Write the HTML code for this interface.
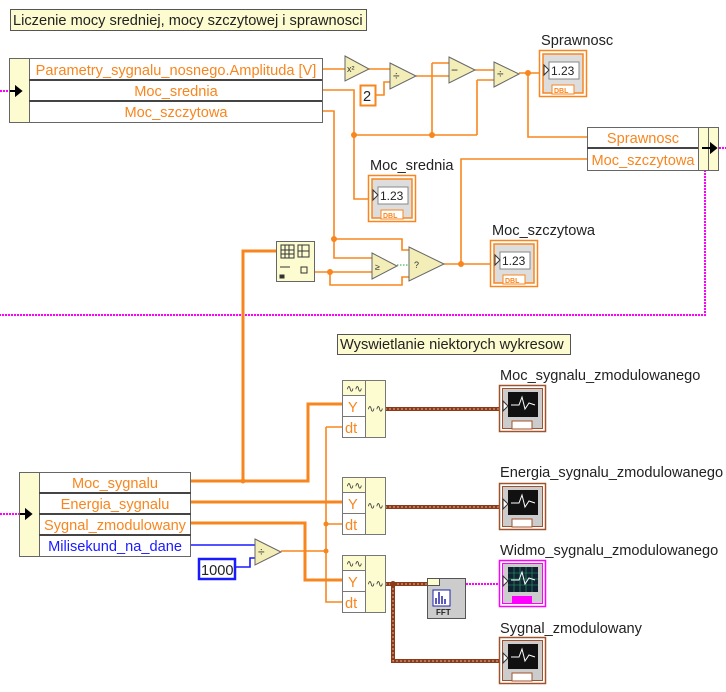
<!DOCTYPE html>
<html><head><meta charset="utf-8"><style>
html,body{margin:0;padding:0;background:#fff;}
svg{display:block;font-family:"Liberation Sans",sans-serif;}
.o{fill:#f8861e;font-size:14.6px;}
.k{fill:#222;font-size:14.6px;}
</style></head><body>
<svg width="726" height="692" viewBox="0 0 726 692" xmlns="http://www.w3.org/2000/svg">
<defs>
<g id="ind">
<rect x="0.5" y="0.5" width="47" height="46" fill="#fff" stroke="#f8861e" stroke-width="1.5"/>
<rect x="4" y="4" width="40" height="39" fill="#ddd" stroke="#f8861e" stroke-width="1.5"/>
<rect x="10" y="12" width="30" height="17" fill="#fff" stroke="#888"/>
<text x="12" y="25" font-size="12" fill="#222">1.23</text>
<path d="M5,15 L10,20 L5,25 Z" fill="#fff" stroke="#333"/>
<rect x="13" y="35" width="22" height="9" fill="#fff" stroke="#f8861e"/>
<text x="15" y="43" font-size="7" fill="#f8861e" font-weight="bold">DBL</text>
</g>
<g id="gr">
<rect x="0.5" y="0.5" width="46" height="46" fill="#fff" stroke="#a0522d" stroke-width="1.5"/>
<rect x="3.5" y="3.5" width="40" height="40" fill="#ccc" stroke="#a0522d"/>
<rect x="9" y="7" width="30" height="25" fill="#111"/>
<path d="M12,20 L20,20 L23,12 L26,24 L30,18 L36,20" stroke="#fff" fill="none"/>
<path d="M4,16 L9,21 L4,26 Z" fill="#fff" stroke="#333"/>
<rect x="13" y="36" width="20" height="8" fill="#fff" stroke="#a0522d"/>
</g>
<g id="bw">
<rect x="0.5" y="0.5" width="43" height="57" fill="#fdfbd0" stroke="#777"/>
<rect x="0.5" y="0.5" width="23" height="15" fill="#fdfbd0" stroke="#777"/>
<rect x="0.5" y="15.5" width="23" height="21" fill="#fff" stroke="#777"/>
<rect x="0.5" y="36.5" width="23" height="21" fill="#fff" stroke="#777"/>
<text x="4" y="12" font-size="10" fill="#333">∿∿</text>
<text x="6" y="32" class="o" font-size="16">Y</text>
<text x="3" y="53" class="o" font-size="16">dt</text>
<text x="25" y="32" font-size="10" fill="#333">∿∿</text>
</g>
</defs>

<!-- comments -->
<rect x="10.5" y="9.5" width="356" height="21" fill="#fdfbd0" stroke="#555"/>
<text x="13" y="25" class="k">Liczenie mocy sredniej, mocy szczytowej i sprawnosci</text>
<rect x="337.5" y="334.5" width="233" height="20" fill="#fdfbd0" stroke="#555"/>
<text x="340" y="349" class="k">Wyswietlanie niektorych wykresow</text>

<!-- pink wires -->
<g stroke="#f0f" stroke-width="2" stroke-dasharray="2,1" fill="none">
<path d="M0,91 H10"/>
<path d="M719,148 H726"/>
<path d="M705,170 V315 H0"/>
<path d="M0,514 H20"/>
<path d="M466,584 H500"/>
</g>

<!-- orange wires thin -->
<g stroke="#f8861e" stroke-width="1.6" fill="none">
<path d="M322,69 H345"/>
<path d="M369,69 H390"/>
<path d="M376,95 H384 V82 H390"/>
<path d="M416,76 H449"/>
<path d="M432,63 H449 M432,63 V135"/>
<path d="M475,70 H494"/>
<path d="M477,80 H494 M477,80 V135"/>
<path d="M519,73 H539"/>
<path d="M528,73 V137 H587"/>
<path d="M322,90 H354 V199 H369"/>
<path d="M354,135 H477"/>
<path d="M322,111 H334 V258 H372"/>
<path d="M334,239 H402 V250 H410"/>
<path d="M315,272 H372"/>
<path d="M330,272 V285 H402 V277 H410"/>
<path d="M444,264 H491"/>
<path d="M461,264 V159 H587"/>
<path d="M281,551 H326"/>
<path d="M326,427 V602 H342 M326,427 H342 M326,524 H342"/>
</g>
<path d="M397,265 H409" stroke="#2a2" stroke-dasharray="1.5,1.5"/>
<!-- thick orange -->
<g stroke="#f8861e" stroke-width="3" fill="none">
<path d="M276,251 H243 V481"/>
<path d="M191,481 H308 V404 H342"/>
<path d="M191,502 H342"/>
<path d="M191,523 H305 V580 H342"/>
</g>
<!-- blue -->
<g stroke="#1a1aff" stroke-width="1.6" fill="none">
<path d="M191,545 H255"/>
<path d="M236,567 H250 V558 H255"/>
</g>
<!-- brown waveform wires -->
<g stroke="#8b3a1a" stroke-width="4" fill="none">
<path d="M385,409 H500"/>
<path d="M385,507 H500"/>
<path d="M385,584 H427"/>
<path d="M393,584 V661 H500"/>
</g>
<g stroke="#e8b090" stroke-width="1" stroke-dasharray="2,2" fill="none">
<path d="M385,409 H500"/><path d="M385,507 H500"/><path d="M385,584 H427"/><path d="M393,584 V661 H500"/>
</g>

<!-- junction dots -->
<g fill="#f8861e">
<circle cx="528" cy="73" r="3"/><circle cx="354" cy="135" r="3"/><circle cx="432" cy="135" r="3"/>
<circle cx="334" cy="239" r="3"/><circle cx="330" cy="272" r="3"/><circle cx="461" cy="264" r="3"/>
<circle cx="243" cy="481" r="2.5"/><circle cx="326" cy="524" r="2.5"/><circle cx="326" cy="551" r="2.5"/>
</g>
<circle cx="393" cy="584" r="3" fill="#8b3a1a"/>

<!-- top unbundle -->
<rect x="9.5" y="58.5" width="20" height="64" fill="#fdfbd0" stroke="#666"/>
<path d="M10,91 H20 M16,87 L21,91 L16,95 Z" stroke="#000" stroke-width="2" fill="#000"/>
<rect x="29.5" y="58.5" width="293" height="64" fill="#fff" stroke="#666"/>
<path d="M29,80 H322 M29,101 H322" stroke="#444" stroke-width="2"/>
<text x="176" y="75" class="o" text-anchor="middle">Parametry_sygnalu_nosnego.Amplituda [V]</text>
<text x="176" y="96" class="o" text-anchor="middle">Moc_srednia</text>
<text x="176" y="117" class="o" text-anchor="middle">Moc_szczytowa</text>

<!-- nodes -->
<g fill="#f3eeb8" stroke="#666">
<path d="M345,56 L369,69 L345,81 Z"/>
<path d="M390,63 L416,76 L390,89 Z"/>
<path d="M449,57 L475,70 L449,83 Z"/>
<path d="M494,62 L519,74 L494,87 Z"/>
<path d="M372,253 L397,266 L372,279 Z"/>
<path d="M409,247 L444,264 L409,281 Z"/>
<path d="M255,539 L281,552 L255,565 Z"/>
</g>
<g font-size="12" fill="#333">
<text x="347" y="72" font-size="9">x²</text>
<text x="393" y="80">÷</text><text x="451" y="74">−</text><text x="497" y="78">÷</text><text x="258" y="556">÷</text>
<text x="375" y="270" font-size="9">≥</text><text x="414" y="268" font-size="9">?</text>
</g>
<rect x="360.5" y="85.5" width="15" height="20" fill="#fff" stroke="#f8861e" stroke-width="2"/>
<text x="363" y="101" class="k">2</text>
<rect x="199" y="559" width="36" height="20" fill="#fff" stroke="#1a1aff" stroke-width="2.5"/>
<text x="201" y="575" class="k">1000</text>

<rect x="276.5" y="241.5" width="38" height="40" fill="#fdfbd0" stroke="#666"/>
<g stroke="#333" fill="none"><rect x="281" y="245" width="13" height="13"/><path d="M285,245 V258 M289,245 V258 M281,250 H294 M281,254 H294"/><rect x="298" y="245" width="11" height="12"/><path d="M302,245 V257 M298,251 H309"/><path d="M280,267 H290"/><rect x="301" y="267" width="6" height="6"/><rect x="280" y="275" width="4" height="3" fill="#333"/></g>

<!-- indicators -->
<text x="541" y="45" class="k">Sprawnosc</text>
<use href="#ind" x="539" y="50"/>
<text x="370" y="170" class="k">Moc_srednia</text>
<use href="#ind" x="368" y="175"/>
<text x="492" y="235" class="k">Moc_szczytowa</text>
<use href="#ind" x="490" y="240"/>

<!-- bundle by name -->
<rect x="587.5" y="127.5" width="111" height="43" fill="#fff" stroke="#666"/>
<path d="M587,148 H698" stroke="#444" stroke-width="2"/>
<text x="643" y="143" class="o" text-anchor="middle">Sprawnosc</text>
<text x="643" y="165" class="o" text-anchor="middle">Moc_szczytowa</text>
<rect x="698.5" y="127.5" width="10" height="43" fill="#fdfbd0" stroke="#666"/>
<rect x="708.5" y="127.5" width="10" height="43" fill="#fdfbd0" stroke="#666"/>
<path d="M702,148 H714 M711,144 L716,148 L711,152 Z" stroke="#000" stroke-width="2" fill="#000"/>

<!-- bottom unbundle -->
<rect x="19.5" y="472.5" width="20" height="84" fill="#fdfbd0" stroke="#666"/>
<path d="M20,514 H30 M26,510 L31,514 L26,518 Z" stroke="#000" stroke-width="2" fill="#000"/>
<rect x="39.5" y="472.5" width="151" height="84" fill="#fff" stroke="#666"/>
<path d="M39,493 H191 M39,514 H191 M39,535 H191" stroke="#444" stroke-width="2"/>
<text x="115" y="488" class="o" text-anchor="middle">Moc_sygnalu</text>
<text x="115" y="509" class="o" text-anchor="middle">Energia_sygnalu</text>
<text x="115" y="530" class="o" text-anchor="middle">Sygnal_zmodulowany</text>
<text x="115" y="551" font-size="14.6" fill="#1a1aff" text-anchor="middle">Milisekund_na_dane</text>

<use href="#bw" x="342" y="380"/>
<use href="#bw" x="342" y="477"/>
<use href="#bw" x="342" y="555"/>

<!-- FFT -->
<rect x="427.5" y="578.5" width="38" height="40" fill="#ccc" stroke="#555"/>
<rect x="427.5" y="578.5" width="12" height="7" fill="#fdfbd0" stroke="#555"/>
<rect x="433" y="590" width="17" height="16" fill="#fff" stroke="#22a"/>
<path d="M436,604 V598 M439,604 V592 M442,604 V596 M445,604 V599" stroke="#22a" stroke-width="1.5"/>
<text x="436" y="615" font-size="8" font-weight="bold" fill="#222">FFT</text>

<!-- graphs -->
<text x="500" y="380" class="k">Moc_sygnalu_zmodulowanego</text>
<use href="#gr" x="499" y="385"/>
<text x="500" y="477" class="k">Energia_sygnalu_zmodulowanego</text>
<use href="#gr" x="499" y="483"/>
<text x="500" y="555" class="k">Widmo_sygnalu_zmodulowanego</text>
<g transform="translate(499,560)">
<rect x="0.5" y="0.5" width="46" height="46" fill="#fff" stroke="#f0f" stroke-width="1.5"/>
<rect x="3.5" y="3.5" width="40" height="40" fill="#ccc" stroke="#f0f"/>
<rect x="9" y="7" width="30" height="25" fill="#123"/>
<path d="M9,13 H39 M9,19 H39 M9,25 H39 M15,7 V32 M21,7 V32 M27,7 V32 M33,7 V32" stroke="#2a6" stroke-width="0.6"/>
<path d="M12,20 L20,20 L23,12 L26,24 L30,18 L36,20" stroke="#fff" fill="none"/>
<path d="M4,16 L9,21 L4,26 Z" fill="#fff" stroke="#333"/>
<rect x="13" y="36" width="20" height="8" fill="#f0f"/>
</g>
<text x="500" y="633" class="k">Sygnal_zmodulowany</text>
<use href="#gr" x="499" y="637"/>
</svg>
</body></html>
